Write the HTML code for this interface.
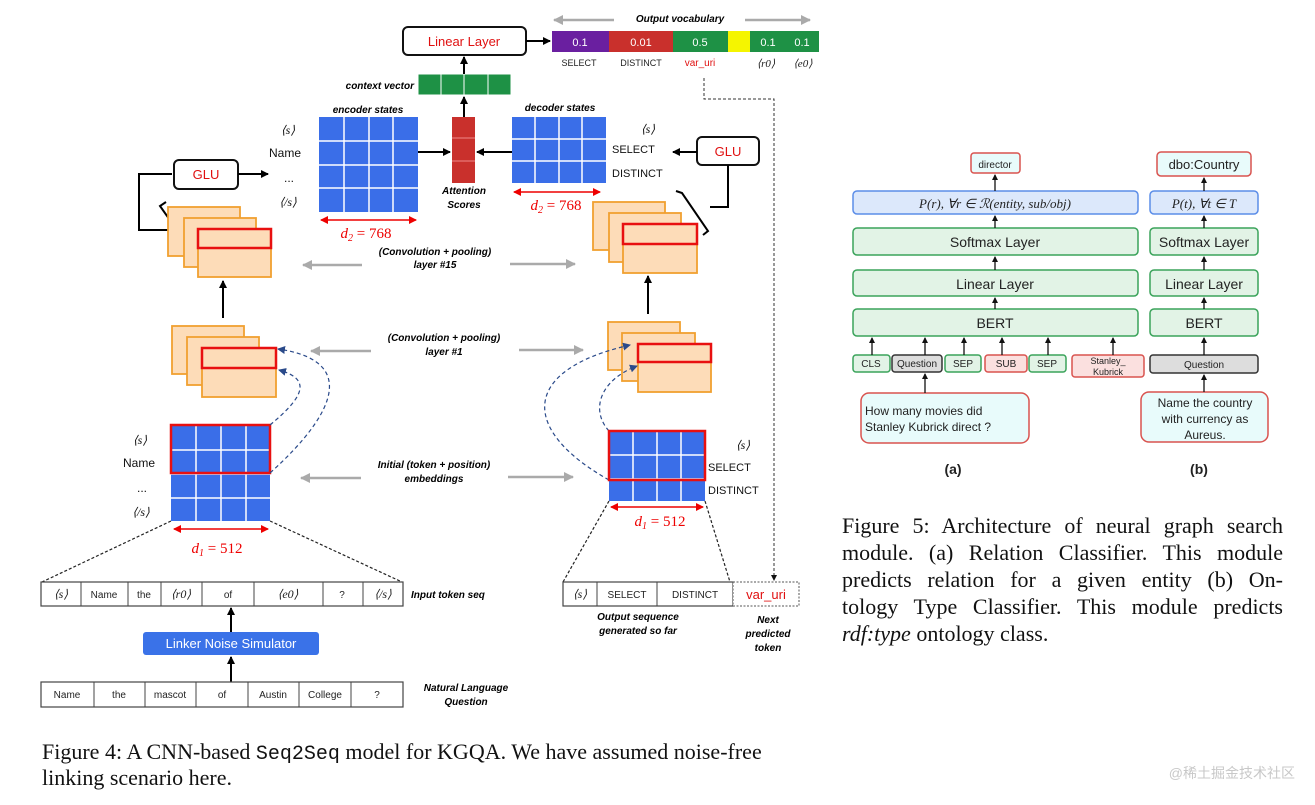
<!DOCTYPE html>
<html><head><meta charset="utf-8"><style>
body{margin:0;background:#fff;position:relative;width:1315px;height:805px;overflow:hidden;}
svg{display:block;font-family:"Liberation Sans",sans-serif;}
.it{font-style:italic;font-weight:bold;font-size:10px;}
.cap{font-family:"Liberation Serif",serif;font-size:22px;fill:#111;}
#f5{position:absolute;left:842px;top:512px;width:441px;font-family:"Liberation Serif",serif;font-size:22px;line-height:27px;color:#111;margin:0;}
#f5 div{text-align:justify;text-align-last:justify;white-space:nowrap;}
#f5 div.l{text-align:left;text-align-last:left;}
</style></head><body>
<svg width="1315" height="805" viewBox="0 0 1315 805" xmlns="http://www.w3.org/2000/svg">
<defs>
<marker id="ab" markerWidth="8" markerHeight="8" refX="7" refY="4" orient="auto" markerUnits="userSpaceOnUse"><path d="M0,0L8,4L0,8z" fill="#000"/></marker>
<marker id="ag" markerWidth="10" markerHeight="10" refX="9" refY="5" orient="auto" markerUnits="userSpaceOnUse"><path d="M0,0L10,5L0,10z" fill="#aaa"/></marker>
<marker id="ar" markerWidth="8" markerHeight="8" refX="7" refY="4" orient="auto-start-reverse" markerUnits="userSpaceOnUse"><path d="M0,0L8,4L0,8z" fill="#e00"/></marker>
<marker id="an" markerWidth="8" markerHeight="8" refX="7" refY="4" orient="auto" markerUnits="userSpaceOnUse"><path d="M0,0L8,4L0,8z" fill="#2a4a8a"/></marker>
<marker id="as" markerWidth="6" markerHeight="6" refX="5" refY="3" orient="auto" markerUnits="userSpaceOnUse"><path d="M0,0L6,3L0,6z" fill="#111"/></marker>
</defs>

<line x1="614" y1="20" x2="554" y2="20" stroke="#aaa" stroke-width="2.5" marker-end="url(#ag)"/>
<line x1="745" y1="20" x2="810" y2="20" stroke="#aaa" stroke-width="2.5" marker-end="url(#ag)"/>
<text x="680" y="22" class="it" text-anchor="middle">Output vocabulary</text>
<rect x="403" y="27" width="123" height="28" rx="5" fill="#fff" stroke="#111" stroke-width="2"/>
<text x="464" y="46" text-anchor="middle" font-size="13" fill="#e01010">Linear Layer</text>
<line x1="526" y1="41" x2="550" y2="41" stroke="#000" stroke-width="2" marker-end="url(#ab)"/>
<rect x="552" y="31" width="57" height="21" fill="#6a1fa0"/>
<rect x="609" y="31" width="64" height="21" fill="#c9302c"/>
<rect x="673" y="31" width="55" height="21" fill="#1e9145"/>
<rect x="728" y="31" width="22" height="21" fill="#f5f500"/>
<rect x="750" y="31" width="36" height="21" fill="#1e9145"/>
<rect x="786" y="31" width="33" height="21" fill="#1e9145"/>
<g font-size="11" fill="#fff" text-anchor="middle"><text x="580" y="46">0.1</text><text x="641" y="46">0.01</text><text x="700" y="46">0.5</text><text x="768" y="46">0.1</text><text x="802" y="46">0.1</text></g>
<g font-size="9" fill="#222" text-anchor="middle"><text x="579" y="66">SELECT</text><text x="641" y="66">DISTINCT</text><text x="766" y="67" font-family="Liberation Serif" font-style="italic" font-size="11">⟨r0⟩</text><text x="803" y="67" font-family="Liberation Serif" font-style="italic" font-size="11">⟨e0⟩</text></g>
<text x="700" y="66" font-size="10" fill="#e01010" text-anchor="middle">var_uri</text>
<path d="M704,78V99H774V580" fill="none" stroke="#333" stroke-width="1" stroke-dasharray="3,2" marker-end="url(#as)"/>

<g fill="#1e9145" stroke="#fff" stroke-width="1"><rect x="418" y="74" width="23" height="21"/><rect x="441" y="74" width="23" height="21"/><rect x="464" y="74" width="24" height="21"/><rect x="488" y="74" width="23" height="21"/></g>
<text x="414" y="89" class="it" text-anchor="end" font-size="11">context vector</text>
<line x1="464" y1="74" x2="464" y2="57" stroke="#000" stroke-width="2" marker-end="url(#ab)"/>
<line x1="464" y1="117" x2="464" y2="97" stroke="#000" stroke-width="2" marker-end="url(#ab)"/>
<rect x="452" y="117" width="23" height="66" fill="#c9302c"/>
<line x1="452" y1="138" x2="475" y2="138" stroke="#e88"/><line x1="452" y1="161" x2="475" y2="161" stroke="#e88"/>
<text x="464" y="194" class="it" text-anchor="middle">Attention</text><text x="464" y="208" class="it" text-anchor="middle">Scores</text>

<text x="368" y="113" class="it" text-anchor="middle" font-size="12">encoder states</text>
<rect x="319" y="117" width="99" height="95" fill="#3a6ee8"/>
<g stroke="#fff" stroke-width="1.5"><line x1="344" y1="117" x2="344" y2="212"/><line x1="369" y1="117" x2="369" y2="212"/><line x1="393" y1="117" x2="393" y2="212"/><line x1="319" y1="141" x2="418" y2="141"/><line x1="319" y1="165" x2="418" y2="165"/><line x1="319" y1="188" x2="418" y2="188"/></g>
<line x1="418" y1="152" x2="450" y2="152" stroke="#000" stroke-width="2" marker-end="url(#ab)"/>
<g font-size="12" text-anchor="middle" fill="#111"><text x="288" y="134" font-family="Liberation Serif" font-style="italic">⟨s⟩</text><text x="285" y="157">Name</text><text x="289" y="182">...</text><text x="288" y="206" font-family="Liberation Serif" font-style="italic">⟨/s⟩</text></g>
<line x1="321" y1="220" x2="416" y2="220" stroke="#e00" stroke-width="1.5" marker-start="url(#ar)" marker-end="url(#ar)"/>
<text x="366" y="238" font-family="Liberation Serif" font-style="italic" font-size="15" fill="#e00" text-anchor="middle">d<tspan font-size="10" dy="3">2</tspan><tspan dy="-3" font-style="normal"> = 768</tspan></text>

<text x="560" y="111" class="it" text-anchor="middle" font-size="12">decoder states</text>
<rect x="512" y="117" width="94" height="66" fill="#3a6ee8"/>
<g stroke="#fff" stroke-width="1.5"><line x1="535" y1="117" x2="535" y2="183"/><line x1="559" y1="117" x2="559" y2="183"/><line x1="582" y1="117" x2="582" y2="183"/><line x1="512" y1="139" x2="606" y2="139"/><line x1="512" y1="161" x2="606" y2="161"/></g>
<line x1="512" y1="152" x2="477" y2="152" stroke="#000" stroke-width="2" marker-end="url(#ab)"/>
<g font-size="11" fill="#111"><text x="641" y="133" font-family="Liberation Serif" font-style="italic" font-size="12">⟨s⟩</text><text x="612" y="153">SELECT</text><text x="612" y="177">DISTINCT</text></g>
<line x1="514" y1="192" x2="600" y2="192" stroke="#e00" stroke-width="1.5" marker-start="url(#ar)" marker-end="url(#ar)"/>
<text x="556" y="210" font-family="Liberation Serif" font-style="italic" font-size="15" fill="#e00" text-anchor="middle">d<tspan font-size="10" dy="3">2</tspan><tspan dy="-3" font-style="normal"> = 768</tspan></text>

<rect x="697" y="137" width="62" height="28" rx="5" fill="#fff" stroke="#111" stroke-width="2"/>
<text x="728" y="156" text-anchor="middle" font-size="13" fill="#e01010">GLU</text>
<line x1="697" y1="152" x2="673" y2="152" stroke="#000" stroke-width="2" marker-end="url(#ab)"/>
<path d="M728,165V207H710" fill="none" stroke="#000" stroke-width="2"/>
<path d="M676,191L682,193L708,231L703,235" fill="none" stroke="#000" stroke-width="2"/>

<rect x="174" y="160" width="64" height="29" rx="5" fill="#fff" stroke="#111" stroke-width="2"/>
<text x="206" y="179" text-anchor="middle" font-size="13" fill="#e01010">GLU</text>
<line x1="238" y1="174" x2="268" y2="174" stroke="#000" stroke-width="2" marker-end="url(#ab)"/>
<path d="M172,174H139V230H170" fill="none" stroke="#000" stroke-width="2"/>
<path d="M166,202L160,206L186,243L192,244" fill="none" stroke="#000" stroke-width="2"/>

<g fill="#fddcb8" stroke="#f0a030" stroke-width="1.8">
<rect x="168" y="207" width="72" height="49"/><rect x="184" y="218" width="72" height="49"/><rect x="198" y="229" width="73" height="48"/>
<rect x="593" y="202" width="72" height="48"/><rect x="609" y="213" width="72" height="49"/><rect x="623" y="224" width="74" height="49"/>
</g>
<rect x="198" y="229" width="73" height="19" fill="none" stroke="#e81010" stroke-width="2.5"/>
<rect x="623" y="224" width="74" height="20" fill="none" stroke="#e81010" stroke-width="2.5"/>
<text x="435" y="255" class="it" text-anchor="middle">(Convolution + pooling)</text><text x="435" y="268" class="it" text-anchor="middle">layer #15</text>
<line x1="362" y1="265" x2="303" y2="265" stroke="#aaa" stroke-width="2.5" marker-end="url(#ag)"/>
<line x1="510" y1="264" x2="575" y2="264" stroke="#aaa" stroke-width="2.5" marker-end="url(#ag)"/>
<line x1="223" y1="318" x2="223" y2="281" stroke="#000" stroke-width="2" marker-end="url(#ab)"/>
<line x1="648" y1="314" x2="648" y2="276" stroke="#000" stroke-width="2" marker-end="url(#ab)"/>

<g fill="#fddcb8" stroke="#f0a030" stroke-width="1.8">
<rect x="172" y="326" width="72" height="48"/><rect x="187" y="337" width="72" height="48"/><rect x="202" y="348" width="74" height="49"/>
<rect x="608" y="322" width="72" height="48"/><rect x="622" y="333" width="73" height="48"/><rect x="638" y="344" width="73" height="48"/>
</g>
<rect x="202" y="348" width="74" height="20" fill="none" stroke="#e81010" stroke-width="2.5"/>
<rect x="638" y="344" width="73" height="18" fill="none" stroke="#e81010" stroke-width="2.5"/>
<text x="444" y="341" class="it" text-anchor="middle">(Convolution + pooling)</text><text x="444" y="355" class="it" text-anchor="middle">layer #1</text>
<line x1="371" y1="351" x2="311" y2="351" stroke="#aaa" stroke-width="2.5" marker-end="url(#ag)"/>
<line x1="519" y1="350" x2="583" y2="350" stroke="#aaa" stroke-width="2.5" marker-end="url(#ag)"/>

<rect x="171" y="425" width="99" height="96" fill="#3a6ee8"/>
<g stroke="#fff" stroke-width="1.5"><line x1="196" y1="425" x2="196" y2="521"/><line x1="221" y1="425" x2="221" y2="521"/><line x1="246" y1="425" x2="246" y2="521"/><line x1="171" y1="450" x2="270" y2="450"/><line x1="171" y1="474" x2="270" y2="474"/><line x1="171" y1="498" x2="270" y2="498"/></g>
<rect x="171" y="425" width="99" height="48" fill="none" stroke="#e81010" stroke-width="2.5"/>
<g font-size="12" text-anchor="middle" fill="#111"><text x="140" y="444" font-family="Liberation Serif" font-style="italic">⟨s⟩</text><text x="139" y="467">Name</text><text x="142" y="492">...</text><text x="141" y="516" font-family="Liberation Serif" font-style="italic">⟨/s⟩</text></g>
<line x1="174" y1="529" x2="268" y2="529" stroke="#e00" stroke-width="1.5" marker-start="url(#ar)" marker-end="url(#ar)"/>
<text x="217" y="553" font-family="Liberation Serif" font-style="italic" font-size="15" fill="#e00" text-anchor="middle">d<tspan font-size="10" dy="3">1</tspan><tspan dy="-3" font-style="normal"> = 512</tspan></text>
<g fill="none" stroke="#2a4a8a" stroke-width="1.2" stroke-dasharray="4,3">
<path d="M270,425C300,400 315,380 279,370" marker-end="url(#an)"/>
<path d="M270,473C340,410 355,360 278,349" marker-end="url(#an)"/>
<path d="M609,431C590,410 600,380 637,366" marker-end="url(#an)"/>
<path d="M609,480C520,430 520,370 630,345" marker-end="url(#an)"/>
</g>
<text x="434" y="468" class="it" text-anchor="middle">Initial (token + position)</text><text x="434" y="482" class="it" text-anchor="middle">embeddings</text>
<line x1="361" y1="478" x2="301" y2="478" stroke="#aaa" stroke-width="2.5" marker-end="url(#ag)"/>
<line x1="508" y1="477" x2="573" y2="477" stroke="#aaa" stroke-width="2.5" marker-end="url(#ag)"/>

<rect x="609" y="431" width="96" height="70" fill="#3a6ee8"/>
<g stroke="#fff" stroke-width="1.5"><line x1="633" y1="431" x2="633" y2="501"/><line x1="657" y1="431" x2="657" y2="501"/><line x1="681" y1="431" x2="681" y2="501"/><line x1="609" y1="455" x2="705" y2="455"/><line x1="609" y1="479" x2="705" y2="479"/></g>
<rect x="609" y="431" width="96" height="49" fill="none" stroke="#e81010" stroke-width="2.5"/>
<g font-size="11" fill="#111"><text x="736" y="449" font-family="Liberation Serif" font-style="italic" font-size="12">⟨s⟩</text><text x="708" y="471">SELECT</text><text x="708" y="494">DISTINCT</text></g>
<line x1="611" y1="507" x2="703" y2="507" stroke="#e00" stroke-width="1.5" marker-start="url(#ar)" marker-end="url(#ar)"/>
<text x="660" y="526" font-family="Liberation Serif" font-style="italic" font-size="15" fill="#e00" text-anchor="middle">d<tspan font-size="10" dy="3">1</tspan><tspan dy="-3" font-style="normal"> = 512</tspan></text>

<g stroke="#222" stroke-width="1.2" stroke-dasharray="3,2"><line x1="171" y1="521" x2="42" y2="582"/><line x1="270" y1="521" x2="402" y2="582"/><line x1="609" y1="501" x2="563" y2="582"/><line x1="705" y1="501" x2="730" y2="582"/></g>

<rect x="41" y="582" width="362" height="24" fill="#fff" stroke="#444" stroke-width="1.2"/>
<g stroke="#444" stroke-width="1"><line x1="81" y1="582" x2="81" y2="606"/><line x1="128" y1="582" x2="128" y2="606"/><line x1="161" y1="582" x2="161" y2="606"/><line x1="202" y1="582" x2="202" y2="606"/><line x1="254" y1="582" x2="254" y2="606"/><line x1="323" y1="582" x2="323" y2="606"/><line x1="363" y1="582" x2="363" y2="606"/></g>
<g font-size="10" text-anchor="middle" fill="#222"><text x="61" y="598" font-family="Liberation Serif" font-style="italic" font-size="12">⟨s⟩</text><text x="104" y="598">Name</text><text x="144" y="598">the</text><text x="181" y="598" font-family="Liberation Serif" font-style="italic" font-size="12">⟨r0⟩</text><text x="228" y="598">of</text><text x="288" y="598" font-family="Liberation Serif" font-style="italic" font-size="12">⟨e0⟩</text><text x="342" y="598">?</text><text x="383" y="598" font-family="Liberation Serif" font-style="italic" font-size="12">⟨/s⟩</text></g>
<text x="411" y="598" class="it">Input token seq</text>
<line x1="231" y1="632" x2="231" y2="608" stroke="#000" stroke-width="2" marker-end="url(#ab)"/>
<rect x="143" y="632" width="176" height="23" rx="3" fill="#3a72e8"/>
<text x="231" y="648" text-anchor="middle" font-size="13" fill="#fff">Linker Noise Simulator</text>
<line x1="231" y1="682" x2="231" y2="657" stroke="#000" stroke-width="2" marker-end="url(#ab)"/>
<rect x="41" y="682" width="362" height="25" fill="#fff" stroke="#444" stroke-width="1.2"/>
<g stroke="#444" stroke-width="1"><line x1="94" y1="682" x2="94" y2="707"/><line x1="145" y1="682" x2="145" y2="707"/><line x1="196" y1="682" x2="196" y2="707"/><line x1="248" y1="682" x2="248" y2="707"/><line x1="299" y1="682" x2="299" y2="707"/><line x1="351" y1="682" x2="351" y2="707"/></g>
<g font-size="10" text-anchor="middle" fill="#222"><text x="67" y="698">Name</text><text x="119" y="698">the</text><text x="170" y="698">mascot</text><text x="222" y="698">of</text><text x="273" y="698">Austin</text><text x="325" y="698">College</text><text x="377" y="698">?</text></g>
<text x="466" y="691" class="it" text-anchor="middle">Natural Language</text><text x="466" y="705" class="it" text-anchor="middle">Question</text>

<rect x="563" y="582" width="170" height="24" fill="#fff" stroke="#444" stroke-width="1.2"/>
<line x1="597" y1="582" x2="597" y2="606" stroke="#444"/><line x1="657" y1="582" x2="657" y2="606" stroke="#444"/>
<rect x="733" y="582" width="66" height="24" fill="#fff" stroke="#555" stroke-dasharray="2,1.5"/>
<g font-size="10" text-anchor="middle" fill="#222"><text x="580" y="598" font-family="Liberation Serif" font-style="italic" font-size="12">⟨s⟩</text><text x="627" y="598">SELECT</text><text x="695" y="598">DISTINCT</text></g>
<text x="766" y="599" text-anchor="middle" font-size="13" fill="#e01010">var_uri</text>
<text x="638" y="620" class="it" text-anchor="middle">Output sequence</text><text x="638" y="634" class="it" text-anchor="middle">generated so far</text>
<text x="768" y="623" class="it" text-anchor="middle">Next</text><text x="768" y="637" class="it" text-anchor="middle">predicted</text><text x="768" y="651" class="it" text-anchor="middle">token</text>

<text x="42" y="759" class="cap">Figure 4: A CNN-based <tspan font-family="Liberation Mono" font-size="20">Seq2Seq</tspan> model for KGQA. We have assumed noise-free</text>
<text x="42" y="785" class="cap">linking scenario here.</text>

<g stroke-width="1.5">
<rect x="971" y="153" width="49" height="20" rx="3" fill="#e8fbfb" stroke="#d9534f"/>
<rect x="853" y="191" width="285" height="23" rx="4" fill="#dce8fb" stroke="#5b8de8"/>
<rect x="853" y="228" width="285" height="27" rx="4" fill="#e2f3e6" stroke="#3aa35a"/>
<rect x="853" y="270" width="285" height="26" rx="4" fill="#e2f3e6" stroke="#3aa35a"/>
<rect x="853" y="309" width="285" height="27" rx="4" fill="#e2f3e6" stroke="#3aa35a"/>
<rect x="853" y="355" width="37" height="17" rx="3" fill="#e2f3e6" stroke="#3aa35a"/>
<rect x="892" y="355" width="50" height="17" rx="3" fill="#ddd" stroke="#333"/>
<rect x="945" y="355" width="36" height="17" rx="3" fill="#e2f3e6" stroke="#3aa35a"/>
<rect x="985" y="355" width="42" height="17" rx="3" fill="#fbe0df" stroke="#d9534f"/>
<rect x="1029" y="355" width="37" height="17" rx="3" fill="#e2f3e6" stroke="#3aa35a"/>
<rect x="1072" y="355" width="72" height="22" rx="3" fill="#fbe0df" stroke="#d9534f"/>
<rect x="861" y="393" width="168" height="50" rx="8" fill="#e8fbfb" stroke="#d9534f"/>
<rect x="1157" y="152" width="94" height="24" rx="4" fill="#e8fbfb" stroke="#d9534f"/>
<rect x="1150" y="191" width="108" height="23" rx="4" fill="#dce8fb" stroke="#5b8de8"/>
<rect x="1150" y="228" width="108" height="27" rx="4" fill="#e2f3e6" stroke="#3aa35a"/>
<rect x="1150" y="270" width="108" height="26" rx="4" fill="#e2f3e6" stroke="#3aa35a"/>
<rect x="1150" y="309" width="108" height="27" rx="4" fill="#e2f3e6" stroke="#3aa35a"/>
<rect x="1150" y="355" width="108" height="18" rx="3" fill="#ddd" stroke="#333"/>
<rect x="1141" y="392" width="127" height="50" rx="8" fill="#e8fbfb" stroke="#d9534f"/>
</g>
<g stroke="#111" stroke-width="1.3">
<line x1="995" y1="191" x2="995" y2="175" marker-end="url(#as)"/>
<line x1="995" y1="228" x2="995" y2="216" marker-end="url(#as)"/>
<line x1="995" y1="270" x2="995" y2="257" marker-end="url(#as)"/>
<line x1="995" y1="309" x2="995" y2="298" marker-end="url(#as)"/>
<line x1="872" y1="355" x2="872" y2="338" marker-end="url(#as)"/>
<line x1="925" y1="355" x2="925" y2="338" marker-end="url(#as)"/>
<line x1="964" y1="355" x2="964" y2="338" marker-end="url(#as)"/>
<line x1="1002" y1="355" x2="1002" y2="338" marker-end="url(#as)"/>
<line x1="1048" y1="355" x2="1048" y2="338" marker-end="url(#as)"/>
<line x1="1113" y1="355" x2="1113" y2="338" marker-end="url(#as)"/>
<line x1="925" y1="393" x2="925" y2="374" marker-end="url(#as)"/>
<line x1="1204" y1="191" x2="1204" y2="178" marker-end="url(#as)"/>
<line x1="1204" y1="228" x2="1204" y2="216" marker-end="url(#as)"/>
<line x1="1204" y1="270" x2="1204" y2="257" marker-end="url(#as)"/>
<line x1="1204" y1="309" x2="1204" y2="298" marker-end="url(#as)"/>
<line x1="1204" y1="355" x2="1204" y2="338" marker-end="url(#as)"/>
<line x1="1204" y1="392" x2="1204" y2="375" marker-end="url(#as)"/>
</g>
<g fill="#222" text-anchor="middle">
<text x="995" y="168" font-size="10">director</text>
<text x="995" y="208" font-size="13" font-family="Liberation Serif" font-style="italic">P(r), ∀r ∈ ℛ(entity, sub/obj)</text>
<text x="995" y="247" font-size="14">Softmax Layer</text>
<text x="995" y="289" font-size="14">Linear Layer</text>
<text x="995" y="328" font-size="14">BERT</text>
<text x="871" y="367" font-size="10">CLS</text>
<text x="917" y="367" font-size="10">Question</text>
<text x="963" y="367" font-size="10">SEP</text>
<text x="1006" y="367" font-size="10">SUB</text>
<text x="1047" y="367" font-size="10">SEP</text>
<text x="1108" y="364" font-size="9">Stanley_</text><text x="1108" y="375" font-size="9">Kubrick</text>
<text x="1204" y="169" font-size="13">dbo:Country</text>
<text x="1204" y="208" font-size="13" font-family="Liberation Serif" font-style="italic">P(t), ∀t ∈ T</text>
<text x="1204" y="247" font-size="14">Softmax Layer</text>
<text x="1204" y="289" font-size="14">Linear Layer</text>
<text x="1204" y="328" font-size="14">BERT</text>
<text x="1204" y="368" font-size="10">Question</text>
<text x="1205" y="407" font-size="12">Name the country</text><text x="1205" y="423" font-size="12">with currency as</text><text x="1205" y="439" font-size="12">Aureus.</text>
<text x="953" y="474" font-size="14" font-weight="bold">(a)</text>
<text x="1199" y="474" font-size="14" font-weight="bold">(b)</text>
</g>
<text x="865" y="415" font-size="12" fill="#222">How many movies did</text>
<text x="865" y="431" font-size="12" fill="#222">Stanley Kubrick direct ?</text>

<text x="1295" y="778" text-anchor="end" font-size="14" fill="#c8c8c8" font-family="'Liberation Sans','Noto Sans CJK SC',sans-serif">@稀土掘金技术社区</text>
</svg>
<div id="f5">
<div>Figure 5: Architecture of neural graph search</div>
<div>module. (a) Relation Classifier. This module</div>
<div>predicts relation for a given entity (b) On-</div>
<div>tology Type Classifier. This module predicts</div>
<div class="l"><i>rdf:type</i> ontology class.</div>
</div>
</body></html>
